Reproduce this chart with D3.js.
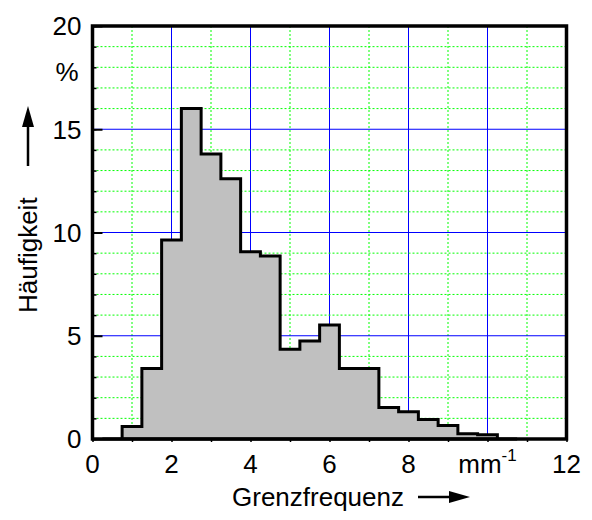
<!DOCTYPE html>
<html>
<head>
<meta charset="utf-8">
<script src="https://cdn.jsdelivr.net/npm/d3@7"></script>
<style>
  html, body { margin: 0; padding: 0; background: #fff; }
  svg { display: block; font-family: "Liberation Sans", Arial, sans-serif; }
</style>
</head>
<body>
<svg id="chart" width="592" height="520"></svg>
<script>
// Histogram of cut-off frequencies (bin width 0.5 mm^-1)
const binStarts = [0.25, 0.75, 1.25, 1.75, 2.25, 2.75, 3.25, 3.75, 4.25, 4.75, 5.25,
                   5.75, 6.25, 6.75, 7.25, 7.75, 8.25, 8.75, 9.25, 9.75, 10.25];
const frequencies = [0, 0.6, 3.42, 9.64, 16.0, 13.8, 12.6, 9.07, 8.86, 4.35, 4.75,
                     5.52, 3.42, 3.42, 1.52, 1.32, 0.95, 0.65, 0.25, 0.2, 0];
const binWidth = 0.5;

const xTickValues = [0, 2, 4, 6, 8, 10, 12];
const xTickLabels = ["0", "2", "4", "6", "8", "mm", "12"];
const yTickValues = [0, 5, 10, 15, 20];
const yTickLabels = ["0", "5", "10", "15", "20"];

const svg = d3.select("#chart");
const plotL = 92.5, plotR = 566.5, plotT = 26, plotB = 439;

const x = d3.scaleLinear().domain([0, 12]).range([plotL, plotR]);
const y = d3.scaleLinear().domain([0, 20]).range([plotB, plotT]);

// grid: minor dotted green every unit, major blue lines
const g = svg.append("g");
d3.range(1, 12).forEach(v => {
  const major = v % 2 === 0;
  g.append("line")
    .attr("x1", x(v)).attr("x2", x(v)).attr("y1", plotT).attr("y2", plotB)
    .attr("stroke", major ? "#0000ff" : "#00ff00")
    .attr("stroke-width", 1)
    .attr("stroke-dasharray", major ? null : "2,2");
});
d3.range(1, 20).forEach(v => {
  const major = v % 5 === 0;
  g.append("line")
    .attr("x1", plotL).attr("x2", plotR).attr("y1", y(v)).attr("y2", y(v))
    .attr("stroke", major ? "#0000ff" : "#00ff00")
    .attr("stroke-width", 1)
    .attr("stroke-dasharray", major ? null : "2,2");
});

// step outline of the histogram
const pts = [[binStarts[0], 0]];
binStarts.forEach((s, i) => {
  pts.push([s, frequencies[i]]);
  pts.push([s + binWidth, frequencies[i]]);
});
pts.push([binStarts[binStarts.length - 1] + binWidth, 0]);

const line = d3.line().x(d => x(d[0])).y(d => y(d[1]));
svg.append("path")
  .attr("d", line(pts) + "Z")
  .attr("fill", "#c0c0c0")
  .attr("stroke", "#000")
  .attr("stroke-width", 3)
  .attr("stroke-linejoin", "miter");

// axes
const xAxis = d3.axisBottom(x).tickValues(d3.range(0, 13)).tickSize(3).tickFormat("");
const xa = svg.append("g").attr("transform", `translate(0,${plotB})`).call(xAxis);
xa.select(".domain").remove();
xa.selectAll("line").attr("stroke", "#000").attr("stroke-width", 1.5);

const yAxisMinor = d3.axisRight(y).tickValues(d3.range(0, 21)).tickSize(4).tickFormat("");
const ya = svg.append("g").attr("transform", `translate(${plotL},0)`).call(yAxisMinor);
ya.select(".domain").remove();
ya.selectAll("line").attr("stroke", "#000").attr("stroke-width", 1.5);
const yAxisMajor = d3.axisRight(y).tickValues(yTickValues).tickSize(10).tickFormat("");
const ym = svg.append("g").attr("transform", `translate(${plotL},0)`).call(yAxisMajor);
ym.select(".domain").remove();
ym.selectAll("line").attr("stroke", "#000").attr("stroke-width", 2);

// frame
svg.append("rect")
  .attr("x", plotL).attr("y", plotT).attr("width", plotR - plotL).attr("height", plotB - plotT)
  .attr("fill", "none").attr("stroke", "#000").attr("stroke-width", 3.5);

// tick labels
const fs = 26;
svg.append("g").selectAll("text").data(yTickValues).join("text")
  .attr("x", plotL - 11).attr("y", d => y(d))
  .attr("dy", "0.36em").attr("text-anchor", "end")
  .attr("font-size", fs)
  .text((d, i) => yTickLabels[i]);

const xl = svg.append("g").selectAll("text").data(xTickValues).join("text")
  .attr("x", d => x(d)).attr("y", plotB + 34)
  .attr("text-anchor", "middle")
  .attr("font-size", fs)
  .text((d, i) => xTickLabels[i]);
xl.filter(d => d === 10).append("tspan")
  .attr("dy", -12).attr("font-size", 17).text("-1");

// unit of the y axis
svg.append("text")
  .attr("x", 67).attr("y", 72).attr("dy", "0.36em")
  .attr("text-anchor", "middle").attr("font-size", fs).text("%");

// axis titles with arrows
svg.append("text")
  .attr("x", 232).attr("y", 506)
  .attr("font-size", fs).text("Grenzfrequenz");
svg.append("line")
  .attr("x1", 418).attr("x2", 452).attr("y1", 497).attr("y2", 497)
  .attr("stroke", "#000").attr("stroke-width", 2.5);
svg.append("path")
  .attr("d", "M470,497 L449,491 L449,503 Z").attr("fill", "#000");

svg.append("text")
  .attr("transform", "translate(37,313) rotate(-90)")
  .attr("font-size", fs).text("Häufigkeit");
svg.append("line")
  .attr("x1", 28).attr("x2", 28).attr("y1", 166).attr("y2", 125)
  .attr("stroke", "#000").attr("stroke-width", 2.5);
svg.append("path")
  .attr("d", "M28,106 L22,127 L34,127 Z").attr("fill", "#000");
</script>
</body>
</html>
